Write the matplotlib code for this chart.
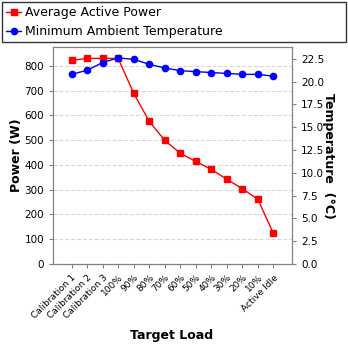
import matplotlib
matplotlib.use("Agg")
import matplotlib.pyplot as plt
from matplotlib.ticker import FormatStrFormatter, MultipleLocator

categories = ["Calibration 1", "Calibration 2", "Calibration 3", "100%", "90%", "80%",
              "70%", "60%", "50%", "40%", "30%", "20%", "10%", "Active Idle"]
power = [822, 830, 830, 830, 689, 576, 499, 447, 414, 382, 342, 304, 261, 124]
temperature = [20.8, 21.25, 22.1, 22.6, 22.45, 21.9, 21.5, 21.2, 21.1, 21.0, 20.9, 20.8, 20.8, 20.6]

plt.rcParams['font.family'] = ['DejaVu Sans']

fig = plt.figure(figsize=(3.48, 3.48), dpi=100)
ax = fig.add_axes([53/348, 1-264/348, (292-53)/348, (264-47)/348])
ax2 = ax.twinx()

x = list(range(len(categories)))
l1, = ax.plot(x, power, color='red', marker='s', markersize=4.5, linewidth=1, label='Average Active Power')
l2, = ax2.plot(x, temperature, color='blue', marker='o', markersize=4.5, linewidth=1, label='Minimum Ambient Temperature')

ax.set_xlim(-1.2, len(categories) - 1 + 1.2)
ax.set_ylim(0, 876)
ax2.set_ylim(0, 23.8)
ax.yaxis.set_major_locator(MultipleLocator(100))
ax2.yaxis.set_major_locator(MultipleLocator(2.5))
ax2.yaxis.set_major_formatter(FormatStrFormatter('%.1f'))

ax.set_xticks(x)
ax.set_xticklabels(categories, rotation=45, ha='right', rotation_mode='anchor', fontsize=6.5)
ax.tick_params(axis='y', labelsize=7.5)
ax2.tick_params(axis='y', labelsize=7.5)
for a in (ax, ax2):
    a.tick_params(color='gray', length=3)
    for s in a.spines.values():
        s.set_color('gray')

ax.grid(axis='y', color='#d8d8d8', linestyle='--', linewidth=0.8)
ax.set_axisbelow(True)

ax.set_ylabel('Power (W)', fontsize=9, fontweight='bold', labelpad=1)
ax2.set_ylabel('Temperature  (°C)', fontsize=9, fontweight='bold', rotation=270, labelpad=8)
fig.text(172/348, 1-336/348, 'Target Load', fontsize=9, fontweight='bold', ha='center', va='center')

leg = fig.legend([l1, l2], ['Average Active Power', 'Minimum Ambient Temperature'],
                 loc='upper left', bbox_to_anchor=(2/348, 1-2/348, 344/348, 0.0001),
                 mode='expand', fontsize=9, fancybox=False, frameon=True,
                 borderaxespad=0, handlelength=1.2, handletextpad=0.3, labelspacing=0.45,
                 borderpad=0.35)
leg.get_frame().set_edgecolor('black')
leg.get_frame().set_linewidth(1)

fig.savefig('out.png', dpi=100)
